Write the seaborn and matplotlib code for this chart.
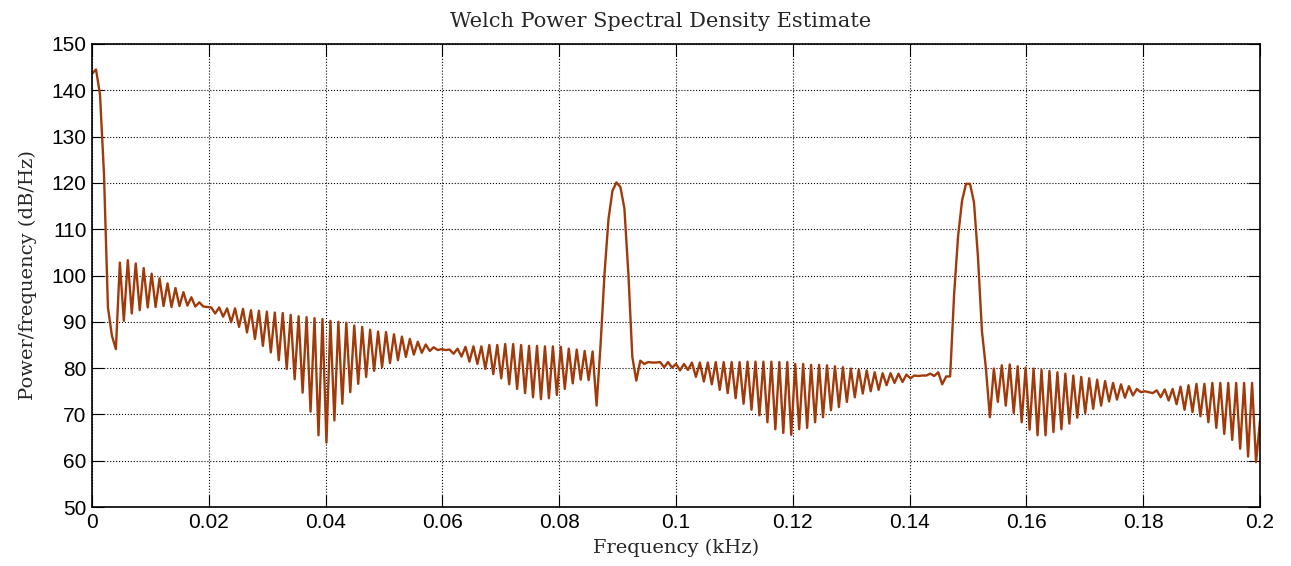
import numpy as np
import pandas as pd
import seaborn as sns
import matplotlib.pyplot as plt

# Welch PSD values (dB/Hz), evenly spaced from 0 to 0.2 kHz
psd_a = [143.6, 144.5, 139.1, 122.0, 93.1, 87.0, 84.1, 102.8, 90.2, 103.3,
         91.8, 102.6, 92.5, 101.6, 93.1, 100.4, 93.2, 99.4, 93.4, 98.3,
         93.2, 97.3, 93.4, 96.4, 93.5, 95.3, 93.3, 94.2, 93.3, 93.2]
psd_b = [93.1, 91.8, 93.1, 91.1, 92.9, 89.9, 92.9, 88.9, 92.8, 87.7,
         92.5, 86.3, 92.4, 84.8, 92.2, 83.4, 92.0, 81.7, 91.9, 79.8,
         91.5, 77.6, 91.2, 74.7, 91.0, 70.6, 90.8, 65.5, 90.6, 63.9]
psd_c = [90.2, 68.7, 90.0, 72.3, 89.8, 74.8, 89.2, 76.6, 88.9, 78.1,
         88.3, 79.4, 87.9, 80.2, 87.8, 81.1, 87.3, 81.7, 86.8, 82.4,
         86.3, 82.9, 85.7, 83.3, 85.1, 83.7, 84.5, 83.9, 84.1, 83.9]
psd_d = [84.0, 83.1, 84.2, 82.5, 84.6, 81.4, 84.7, 80.9, 84.7, 79.8,
         85.0, 78.7, 85.0, 77.8, 85.2, 76.5, 85.2, 75.5, 85.0, 74.6,
         84.8, 73.7, 84.8, 73.3, 84.7, 73.5, 84.7, 74.2, 84.6, 75.5]
psd_e = [84.2, 76.7, 84.0, 77.5, 83.7, 77.4, 83.6, 71.9, 85.0, 100.4,
         112.2, 118.3, 120.1, 119.1, 114.5, 100.4, 82.4, 77.3, 81.6, 80.9,
         81.3, 81.2, 81.2, 81.3, 80.2, 81.3, 80.1, 80.9, 79.5, 80.9]
psd_f = [79.6, 81.2, 78.1, 81.2, 77.1, 81.2, 76.5, 81.3, 75.3, 81.3,
         74.6, 81.3, 73.5, 81.3, 72.3, 81.4, 71.0, 81.4, 69.8, 81.4,
         68.3, 81.4, 66.8, 81.3, 66.0, 81.3, 65.6, 80.9, 66.8, 80.9]
psd_g = [67.1, 80.7, 68.3, 80.7, 69.4, 80.6, 70.9, 80.4, 71.6, 80.2,
         72.7, 79.9, 73.7, 79.7, 74.5, 79.5, 75.0, 79.1, 75.3, 78.9,
         76.3, 78.9, 76.8, 78.8, 77.0, 78.6, 77.8, 78.4, 78.3, 78.4]
psd_h = [78.4, 78.8, 78.3, 79.1, 76.5, 78.2, 78.2, 96.0, 108.5, 116.2,
         119.8, 119.8, 115.8, 104.0, 88.0, 80.0, 69.4, 79.9, 72.7, 80.6,
         71.9, 80.8, 70.3, 80.4, 68.3, 80.1, 66.7, 79.9, 65.5, 79.6]
psd_i = [65.5, 79.4, 66.2, 79.1, 66.8, 78.8, 68.0, 78.4, 69.3, 78.1,
         70.3, 77.8, 71.2, 77.5, 71.9, 77.2, 72.8, 76.8, 73.2, 76.5,
         73.6, 76.1, 74.1, 75.5, 74.8, 75.0, 74.8, 74.6, 75.2, 73.7]
psd_j = [75.4, 73.0, 75.5, 72.2, 76.0, 71.0, 76.3, 70.5, 76.6, 69.6,
         76.6, 68.3, 76.8, 67.1, 76.8, 65.8, 76.8, 64.5, 76.8, 62.6,
         76.8, 60.9, 76.8, 59.7, 68.7]

psd = psd_a + psd_b + psd_c + psd_d + psd_e + psd_f + psd_g + psd_h + psd_i + psd_j
freq = np.linspace(0, 0.2, len(psd))

x_ticks = [0, 0.02, 0.04, 0.06, 0.08, 0.1, 0.12, 0.14, 0.16, 0.18, 0.2]
x_tick_labels = ['0', '0.02', '0.04', '0.06', '0.08', '0.1', '0.12', '0.14', '0.16', '0.18', '0.2']
y_ticks = [50, 60, 70, 80, 90, 100, 110, 120, 130, 140, 150]

sns.set_theme(style="ticks")
plt.rcParams['font.family'] = ['Liberation Sans', 'DejaVu Sans']

fig = plt.figure(figsize=(12.91, 5.66), dpi=100)
ax = fig.add_axes([0.0713, 0.1042, 0.9047, 0.8181])

data = pd.DataFrame({'freq': freq, 'psd': psd})
sns.lineplot(data=data, x='freq', y='psd', ax=ax, color='#A13A0B', linewidth=1.7)

ax.set_xlim(0, 0.2)
ax.set_ylim(50, 150)
ax.set_xticks(x_ticks)
ax.set_xticklabels(x_tick_labels)
ax.set_yticks(y_ticks)
ax.grid(True, color='black', linestyle=':', linewidth=0.8)
ax.tick_params(direction='in', length=8.5, width=0.8, top=True, right=True,
               labelsize=15, colors='black', pad=4)
for s in ax.spines.values():
    s.set_color('black')
    s.set_linewidth(1.2)

serif = ['DejaVu Serif']
ax.set_title('Welch Power Spectral Density Estimate', family=serif, fontsize=15,
             pad=12, x=0.487)
ax.set_xlabel('Frequency (kHz)', family=serif, fontsize=14, labelpad=5)
ax.set_ylabel('Power/frequency (dB/Hz)', family=serif, fontsize=14, labelpad=10)

fig.savefig('out.png', dpi=100)
